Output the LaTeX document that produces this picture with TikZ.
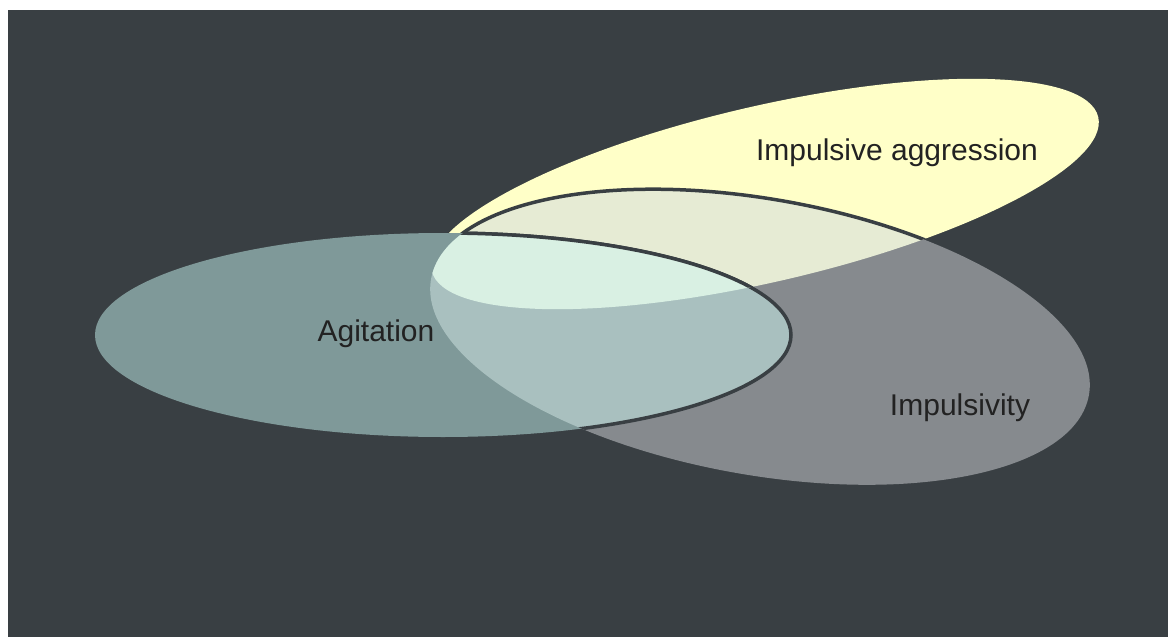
\documentclass[tikz,border=0pt]{standalone}
\usepackage{fontspec}
\setmainfont{Liberation Sans}
\definecolor{fondo}{HTML}{393F43}
\definecolor{amarillo}{HTML}{FFFFC8}
\definecolor{gris}{HTML}{868A8E}
\definecolor{grisamar}{HTML}{E6EBD4}
\definecolor{verde}{HTML}{7F9999}
\definecolor{verdegris}{HTML}{A9C0BF}
\definecolor{menta}{HTML}{D9F0E3}
\definecolor{texto}{HTML}{222222}
% contornos de las tres elipses
\newcommand{\elipseAgr}{(765,194) ellipse [x radius=342,y radius=88]}
\newcommand{\elipseImp}{(760,337) ellipse [x radius=334,y radius=138]}
\newcommand{\elipseAgi}{(443,335) ellipse [x radius=348,y radius=102]}
\tikzset{agr/.style={rotate around={13:(765,194)}},
imp/.style={rotate around={-10:(760,337)}},
rotulo/.style={text=texto,anchor=base,font=\fontsize{15}{18}\selectfont}}
\begin{document}
\begin{tikzpicture}[x=.5pt,y=-.5pt]
\pgfsetlinewidth{1.75pt}
\useasboundingbox (0,0) rectangle (1168,637);
\fill[fondo] (8,10) rectangle (1168,637);
%
% agresion impulsiva e impulsividad
\fill[amarillo,agr] \elipseAgr;
\fill[gris,imp] \elipseImp;
\begin{scope}
\clip[agr] \elipseAgr;
\fill[grisamar,imp] \elipseImp;
\draw[fondo,imp] \elipseImp;
\end{scope}
%
% agitacion
\fill[verde] \elipseAgi;
\begin{scope}
\clip[imp] \elipseImp;
\fill[verdegris] \elipseAgi;
\draw[fondo] \elipseAgi;
\clip[agr] \elipseAgr;
\fill[menta] \elipseAgi;
\draw[fondo] \elipseAgi;
\end{scope}
%
\node[rotulo] (agit) at (376,341) {Agitation};
\node[rotulo] (aggr) at (897,160) {Impulsive aggression};
\node[rotulo] (impul) at (960,415) {Impulsivity};
\end{tikzpicture}
\end{document}
